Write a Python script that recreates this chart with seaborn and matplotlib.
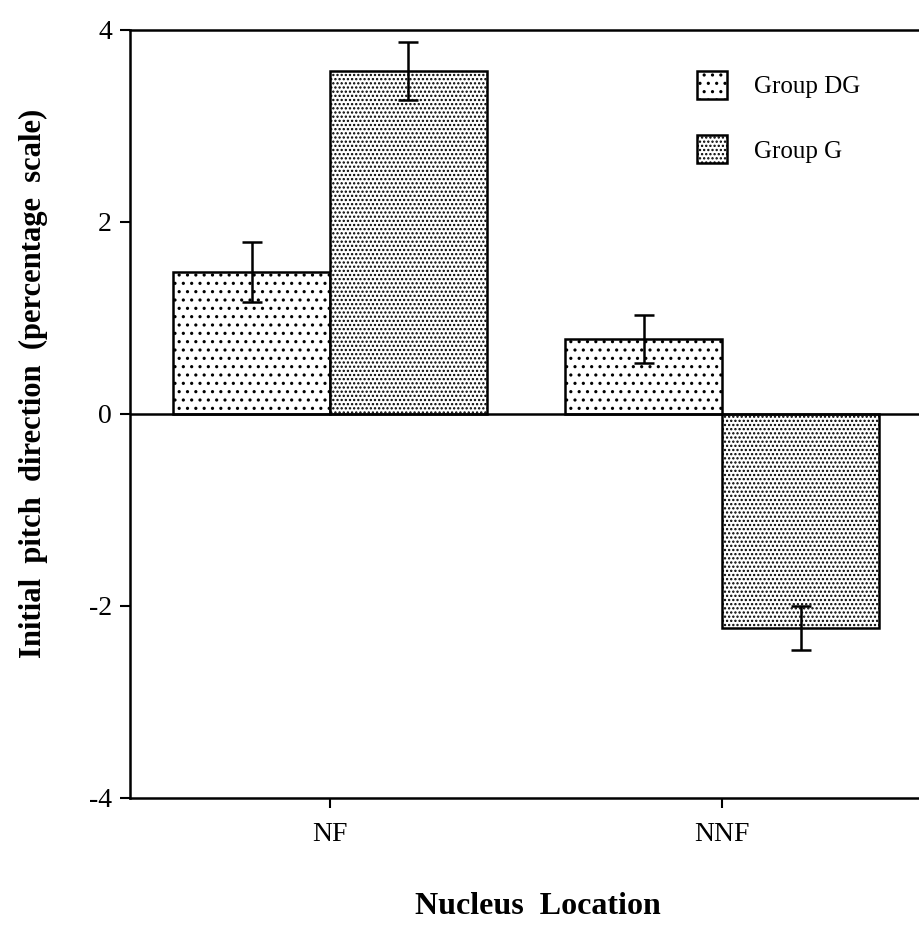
import seaborn as sns
import numpy as np
import pandas as pd
import matplotlib.pyplot as plt
import matplotlib.patches as mpatches

# data
locations = ["NF", "NNF"]
groups = ["Group DG", "Group G"]
dgMeans = [1.48, 0.78]
gMeans = [3.57, -2.23]
dgErrs = [0.31, 0.25]
gErrs = [0.30, 0.23]
yTicks = [-4, -2, 0, 2, 4]

sns.set_style("white")
plt.rcParams['font.family'] = ['Liberation Serif', 'DejaVu Serif']
plt.rcParams['hatch.color'] = 'black'
plt.rcParams['hatch.linewidth'] = 1.1
plt.rcParams['text.color'] = 'black'
plt.rcParams['axes.labelcolor'] = 'black'

df = pd.DataFrame({
    'location': locations * 2,
    'group': [groups[0]] * 2 + [groups[1]] * 2,
    'value': dgMeans + gMeans,
})
errLi = dgErrs + gErrs
hatchLi = ['..', '....']

fig = plt.figure(figsize=(9.19, 9.25), dpi=100)
ax = fig.add_axes([0.1415, 0.1373, 0.862, 0.8303])

sns.barplot(data=df, x='location', y='value', hue='group', hue_order=groups, order=locations,
            width=0.8, errorbar=None, ax=ax, legend=False, saturation=1)

###hatch each hue level, collect bar centers for error bars###
xLi, yLi = [], []
for i, cont in enumerate(ax.containers):
    for bar in cont:
        bar.set_facecolor('white')
        bar.set_edgecolor('black')
        bar.set_linewidth(1.8)
        bar.set_hatch(hatchLi[i])
        xLi.append(bar.get_x() + bar.get_width() / 2)
        yLi.append(bar.get_height())

ax.errorbar(xLi, yLi, yerr=errLi, fmt='none', ecolor='black', elinewidth=1.8,
            capsize=7, capthick=1.8, zorder=5)

ax.axhline(0, color='black', lw=1.8, zorder=6)

ax.set_ylim(-4, 4)
ax.set_xlim(-0.51, 1.51)
ax.set_yticks(yTicks)
ax.set_yticklabels([str(t) for t in yTicks])

for s in ax.spines.values():
    s.set_visible(True)
    s.set_color('black')
    s.set_linewidth(1.8)

ax.tick_params(axis='both', which='major', direction='out', length=7, width=1.5,
               labelsize=20, colors='black', left=True, bottom=True, pad=6)
ax.tick_params(axis='x', pad=10)

ax.set_xlabel("Nucleus  Location", fontsize=23, fontweight='bold')
ax.xaxis.set_label_coords(0.515, -0.122)
ax.set_ylabel("Initial  pitch  direction  (percentage  scale)", fontsize=22, fontweight='bold')
ax.yaxis.set_label_coords(-0.103, 0.54)

handleLi = [mpatches.Patch(facecolor='white', edgecolor='black', hatch=hatchLi[i], lw=1.8, label=groups[i])
            for i in range(2)]
ax.legend(handles=handleLi, loc='upper left', bbox_to_anchor=(697 / 919, 1 - 71 / 925),
          bbox_transform=fig.transFigure, frameon=False, fontsize=18, handlelength=1.2,
          handleheight=1.35, handletextpad=1.1, labelspacing=1.45, borderpad=0, borderaxespad=0)

plt.savefig("out.png", dpi=100)
